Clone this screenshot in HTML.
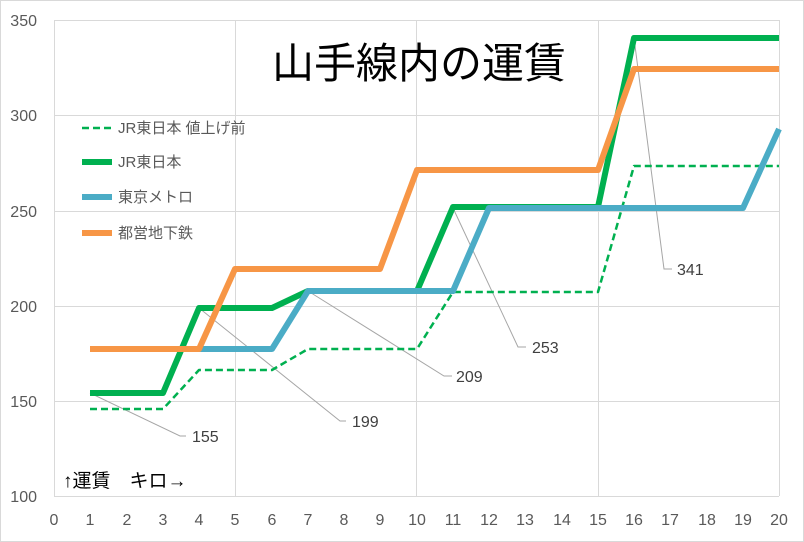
<!DOCTYPE html>
<html><head><meta charset="utf-8"><style>
body{margin:0;background:#fff}
svg{display:block;font-family:"Liberation Sans","Noto Sans CJK JP",sans-serif}
</style></head><body>
<svg width="804" height="542" viewBox="0 0 804 542" xmlns="http://www.w3.org/2000/svg">
<rect x="0.5" y="0.5" width="803" height="541" fill="#fff" stroke="#d9d9d9"/>
<g stroke="#d9d9d9" stroke-width="1">
<line x1="54" y1="20.5" x2="779" y2="20.5"/>
<line x1="54" y1="115.5" x2="779" y2="115.5"/>
<line x1="54" y1="211.5" x2="779" y2="211.5"/>
<line x1="54" y1="306.5" x2="779" y2="306.5"/>
<line x1="54" y1="401.5" x2="779" y2="401.5"/>
<line x1="54.5" y1="20" x2="54.5" y2="496"/>
<line x1="235.5" y1="20" x2="235.5" y2="496"/>
<line x1="416.5" y1="20" x2="416.5" y2="496"/>
<line x1="598.5" y1="20" x2="598.5" y2="496"/>
<line x1="779.5" y1="20" x2="779.5" y2="496"/>
<line x1="54" y1="496.5" x2="779" y2="496.5"/>
</g>
<g fill="#595959" font-size="16" text-anchor="end">
<text x="37" y="26">350</text><text x="37" y="121">300</text><text x="37" y="217">250</text>
<text x="37" y="312">200</text><text x="37" y="407">150</text><text x="37" y="502">100</text>
</g>
<g fill="#595959" font-size="16" text-anchor="middle">
<text x="54" y="525">0</text><text x="90" y="525">1</text><text x="127" y="525">2</text><text x="163" y="525">3</text><text x="199" y="525">4</text><text x="235" y="525">5</text><text x="272" y="525">6</text><text x="308" y="525">7</text><text x="344" y="525">8</text><text x="380" y="525">9</text><text x="417" y="525">10</text><text x="453" y="525">11</text><text x="489" y="525">12</text><text x="525" y="525">13</text><text x="562" y="525">14</text><text x="598" y="525">15</text><text x="634" y="525">16</text><text x="670" y="525">17</text><text x="707" y="525">18</text><text x="743" y="525">19</text><text x="779" y="525">20</text>
</g>
<g stroke="#a6a6a6" stroke-width="1" fill="none">
<polyline points="90,393 180,436 186,436"/>
<polyline points="199,308 340,421 346,421"/>
<polyline points="308,291 444,376 452,376"/>
<polyline points="453,208 518,347 526,347"/>
<polyline points="634,38 664,269 672,269"/>
</g>
<g fill="none" stroke-linejoin="round">
<polyline stroke="#00b050" stroke-width="2.5" stroke-dasharray="7,4" points="90,409 163,409 199,370 272,370 308,349 417,349 453,292 598,292 634,166 779,166"/>
<polyline stroke="#00b050" stroke-width="6" points="90,393 163,393 199,308 272,308 308,291 417,291 453,207 598,207 634,38 779,38"/>
<polyline stroke="#4bacc6" stroke-width="6" points="90,349 272,349 308,291 453,291 489,208 743,208 779,129"/>
<polyline stroke="#f79646" stroke-width="6" points="90,349 199,349 235,269 380,269 417,170 598,170 634,69 779,69"/>
</g>
<g fill="#404040" font-size="16">
<text x="192" y="442">155</text><text x="352" y="427">199</text><text x="456" y="382">209</text><text x="532" y="353">253</text><text x="677" y="275">341</text>
</g>
<text x="419" y="78" font-size="42" text-anchor="middle" fill="#000">山手線内の運賃</text>
<g font-size="15" fill="#595959">
<line x1="82" y1="128" x2="112" y2="128" stroke="#00b050" stroke-width="2.5" stroke-dasharray="7,4"/>
<text x="118" y="133">JR東日本 値上げ前</text>
<line x1="82" y1="162" x2="112" y2="162" stroke="#00b050" stroke-width="6"/>
<text x="118" y="167">JR東日本</text>
<line x1="82" y1="197" x2="112" y2="197" stroke="#4bacc6" stroke-width="6"/>
<text x="118" y="202">東京メトロ</text>
<line x1="82" y1="233" x2="112" y2="233" stroke="#f79646" stroke-width="6"/>
<text x="118" y="238">都営地下鉄</text>
</g>
<text x="63" y="487" font-size="19" fill="#000">↑運賃　キロ→</text>
</svg>
</body></html>
